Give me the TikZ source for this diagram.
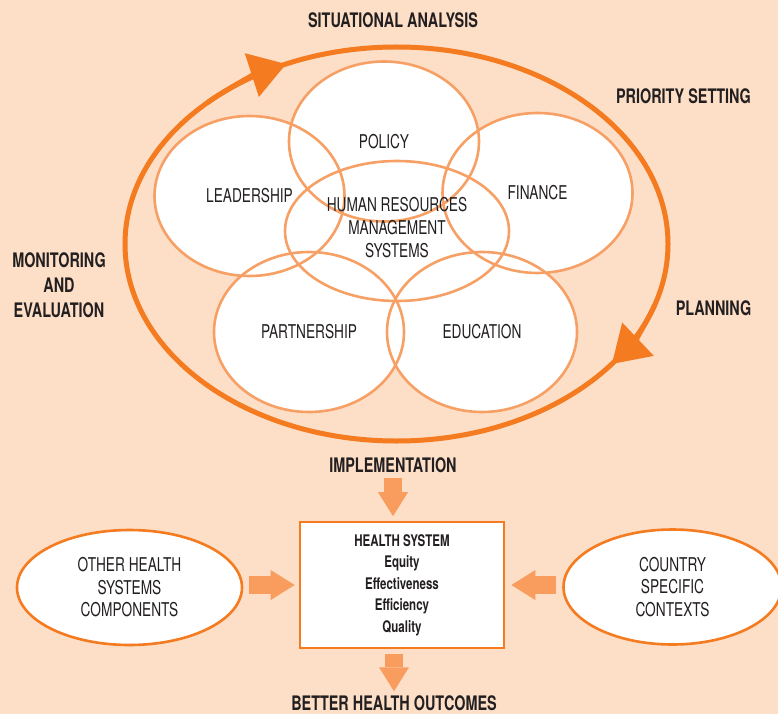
\documentclass[tikz,border=0pt]{standalone}
\usepackage{fontspec}
\setmainfont{TeX Gyre Heros}[FakeStretch=0.72]
\usepackage{xcolor}
\usetikzlibrary{arrows.meta,shapes.geometric,calc}
\definecolor{peach}{HTML}{FDDFC7}
\definecolor{ringorange}{HTML}{F47B20}
\definecolor{petalorange}{HTML}{F7A065}
\definecolor{arroworange}{HTML}{F99D5F}
\definecolor{ink}{HTML}{231F20}
\tikzset{>=latex}
\tikzset{
  petal/.style={ellipse,draw=petalorange,line width=2.6pt,minimum width=190pt,minimum height=160pt,inner sep=0pt,align=center,text=ink,font=\fontsize{19}{23}\selectfont},
  stage/.style={text=ink,align=center,inner sep=0pt,font=\bfseries\fontsize{20}{25}\selectfont},
  ring/.style={draw=ringorange,line width=5pt},
  ringtip/.style={-{Triangle[length=36pt,width=46pt,line width=0pt]}},
  sidebox/.style={ellipse,draw=ringorange,fill=white,line width=2.6pt,minimum width=225pt,minimum height=115pt,inner sep=0pt,align=center,text=ink,font=\fontsize{19}{22.5}\selectfont},
  hsbox/.style={rectangle,draw=ringorange,fill=white,line width=2.6pt,minimum width=204pt,minimum height=126pt,inner sep=0pt,align=center,text=ink,font=\bfseries\fontsize{16}{21.5}\selectfont},
  fatarrow/.style={draw=arroworange,line width=18.5pt,-{Triangle[length=24pt,width=30pt,line width=0pt]}}
}

\begin{document}
\begin{tikzpicture}[x=1pt,y=-1pt]
  % Background
  \fill[peach] (0,0) rectangle (778,714);
  \useasboundingbox (0,0) rectangle (778,714);

  % Centres
  \coordinate (c) at (396.5,244);
  \coordinate (pol) at (384,141.5);
  \coordinate (lead) at (249.5,196);
  \coordinate (fin) at (537.5,193);
  \coordinate (hrm) at (397,231);
  \coordinate (part) at (309,332);
  \coordinate (edu) at (482,332);

  % Cycle
  \draw[ring] (c) ellipse [x radius=271.5, y radius=197];
  \draw[ring,ringtip] ($(c)+(226:271.5 and 197)$) arc [start angle=226, end angle=246, x radius=271.5, y radius=197];
  \draw[ring,ringtip] ($(c)+(18:271.5 and 197)$) arc [start angle=18, end angle=37.5, x radius=271.5, y radius=197];

  % Fills
  \foreach \p/\w/\h in {pol/95/80,lead/95/80,fin/95/80,hrm/112/70,part/95/80,edu/95/80}
    \fill[white] (\p) ellipse [x radius=\w, y radius=\h];

  % Circles
  \node[petal] (policy) at (pol) {POLICY};
  \node[petal] (leadership) at (lead) {LEADERSHIP};
  \node[petal] (finance) at (fin) {FINANCE};
  \node[petal,minimum width=224pt,minimum height=140pt,text depth=8pt] (hrms) at (hrm) {HUMAN RESOURCES\\MANAGEMENT\\SYSTEMS};
  \node[petal] (partnership) at (part) {PARTNERSHIP};
  \node[petal] (education) at (edu) {EDUCATION};

  % Stages
  \node[stage] (situation) at (393,20.5) {SITUATIONAL ANALYSIS};
  \node[stage] (priority) at (683.5,96) {PRIORITY SETTING};
  \node[stage] (planning) at (713.5,308) {PLANNING};
  \node[stage] (monitoring) at (59,285) {MONITORING\\AND\\EVALUATION};
  \node[stage] (implementation) at (393,465) {IMPLEMENTATION};

  % Health system
  \node[hsbox] (system) at (402,585) {HEALTH SYSTEM\\Equity\\Effectiveness\\Efficiency\\Quality};
  \node[sidebox] (components) at (129.5,587.5) {OTHER HEALTH\\SYSTEMS\\COMPONENTS};
  \node[sidebox,minimum width=218pt] (contexts) at (672.5,587) {COUNTRY\\SPECIFIC\\CONTEXTS};
  \node[stage] (outcomes) at (394,703.5) {BETTER HEALTH OUTCOMES};

  % Arrows
  \draw[fatarrow,shorten <=5pt,shorten >=4.5pt] (implementation.south) -- (implementation.south |- system.north);
  \draw[fatarrow,shorten <=5pt,shorten >=4.5pt] (outcomes.north |- system.south) -- (outcomes.north);
  \draw[fatarrow,shorten <=6pt,shorten >=4pt] (components.east |- system.west) -- (system.west);
  \draw[fatarrow,shorten <=6pt,shorten >=6pt] (contexts.west |- system.east) -- (system.east);
\end{tikzpicture}
\end{document}
